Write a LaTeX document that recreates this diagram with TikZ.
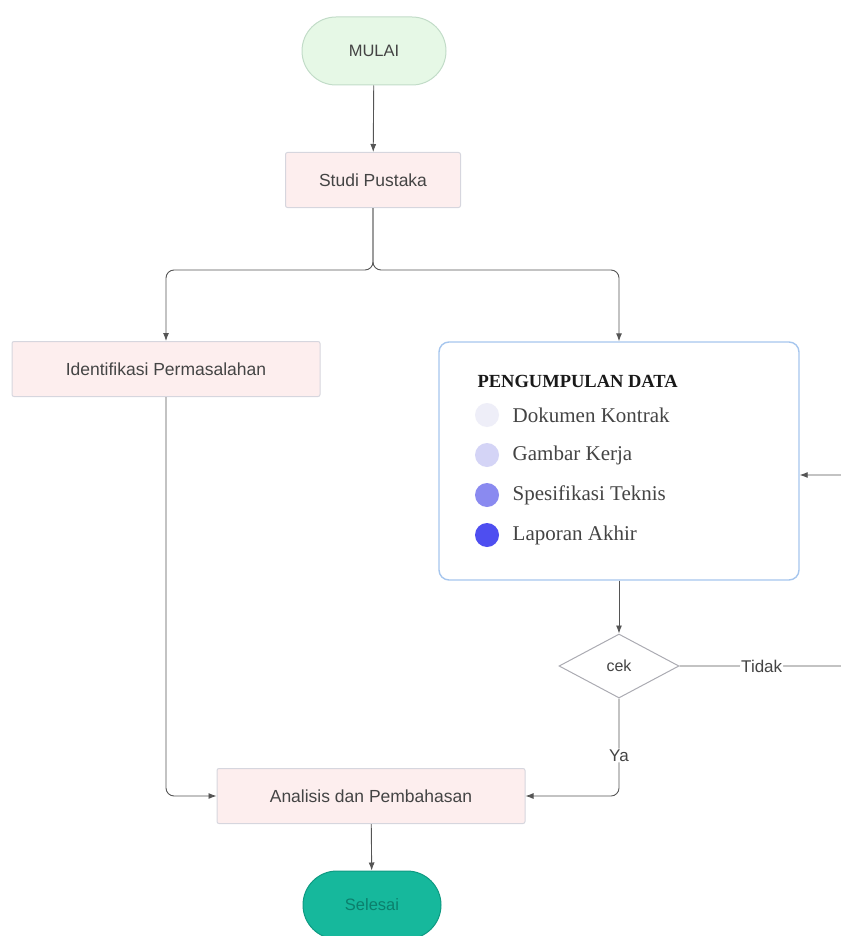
\documentclass[tikz,border=0pt]{standalone}
\usepackage{fontspec}
\setmainfont{Liberation Sans}
\newfontfamily\legendfont{Liberation Serif}
\usetikzlibrary{arrows.meta,shapes.geometric}

\definecolor{flowgray}{HTML}{555555}
\definecolor{boxpink}{HTML}{FDEEEE}
\definecolor{boxedge}{HTML}{D6D6DE}
\definecolor{startgreen}{HTML}{E6F8E6}
\definecolor{startedge}{HTML}{C2DCC8}
\definecolor{endteal}{HTML}{16B89C}
\definecolor{endedge}{HTML}{0E9A82}
\definecolor{endtext}{HTML}{0B7F6C}
\definecolor{dataedge}{HTML}{A6C6EE}
\definecolor{textgray}{HTML}{444444}
\definecolor{dotA}{HTML}{EEEEF8}
\definecolor{dotB}{HTML}{D4D4F6}
\definecolor{dotC}{HTML}{8A8AF0}
\definecolor{dotD}{HTML}{4E4EF0}

\tikzset{
  terminal/.style = {draw, line width=1pt, rounded corners=34pt,
    minimum height=68pt, inner sep=0pt, font=\fontsize{16.5}{18}\selectfont},
  process/.style = {draw=boxedge, fill=boxpink, line width=1pt, rounded corners=2pt,
    minimum height=55pt, inner sep=0pt, text=textgray, font=\fontsize{17.5}{19}\selectfont},
  decision/.style = {draw=boxedge!80!black, diamond, aspect=1.9, line width=1pt,
    minimum width=120pt, minimum height=64pt, inner sep=0pt, text=textgray,
    font=\fontsize{16}{18}\selectfont},
  flowline/.style = {draw=flowgray, line width=0.9pt, -{Latex[length=8pt,width=6pt]}},
  flowtag/.style = {fill=white, inner sep=1pt, text=textgray, font=\fontsize{17}{19}\selectfont},
  dot/.style = {circle, minimum size=24pt, inner sep=0pt}
}

\begin{document}
\begin{tikzpicture}[x=1pt,y=-1pt]
  \useasboundingbox (0,0) rectangle (840,936);

  % start / end
  \node[terminal, draw=startedge, fill=startgreen, text=textgray,
        minimum width=144pt] (mulai) at (374,51) {MULAI};
  \node[terminal, draw=endedge, fill=endteal, text=endtext,
        minimum width=138pt] (selesai) at (372,905) {Selesai};

  % process steps
  \node[process, minimum width=175pt] (studi) at (373,180) {Studi Pustaka};
  \node[process, minimum width=308pt] (ident) at (166,369) {Identifikasi Permasalahan};
  \node[process, minimum width=308pt] (analisis) at (371,796) {Analisis dan Pembahasan};

  % data box with legend
  \node[draw=dataedge, fill=white, line width=1.4pt, rounded corners=10pt,
        minimum width=360pt, minimum height=238pt] (data) at (619,461) {};
  \node[anchor=west, font=\legendfont\bfseries\fontsize{18.5}{20}\selectfont, text=black!90]
        (title) at (474,381) {PENGUMPULAN DATA};
  \node[dot, fill=dotA] (d1) at (487,415) {};
  \node[dot, fill=dotB] (d2) at (487,455) {};
  \node[dot, fill=dotC] (d3) at (487,495) {};
  \node[dot, fill=dotD] (d4) at (487,535) {};
  \foreach \d/\t in {d1/Dokumen Kontrak, d2/Gambar Kerja, d3/Spesifikasi Teknis, d4/Laporan Akhir}
    \node[anchor=west, font=\legendfont\fontsize{21}{23}\selectfont, text=textgray]
      at ([xshift=10pt]\d.east) {\t};

  % check
  \node[decision] (cek) at (619,666) {cek};

  % helper points
  \coordinate (split) at (373,270);
  \coordinate (back1) at (880,666);
  \coordinate (back2) at (880,475);

  % flow
  \draw[flowline] (mulai) -- (studi);
  \draw[flowline, rounded corners=8pt] (studi.south) -- (split) -| (ident.north);
  \draw[flowline, rounded corners=8pt] (studi.south) -- (split) -| (data.north);
  \draw[flowline, rounded corners=8pt] (ident.south) |- (analisis.west);
  \draw[flowline] (data.south) -- (cek.north);
  \draw[flowline, rounded corners=8pt] (cek.south) -- ++(0,60) node[flowtag, pos=0.95] (ya) {Ya}
        |- (analisis.east);
  \draw[flowline, rounded corners=8pt] (cek.east) -- node[flowtag, pos=0.41] (tidak) {Tidak}
        (back1) -- (back2) -- (data.east |- back2);
  \draw[flowline] (analisis) -- (selesai);
\end{tikzpicture}
\end{document}
